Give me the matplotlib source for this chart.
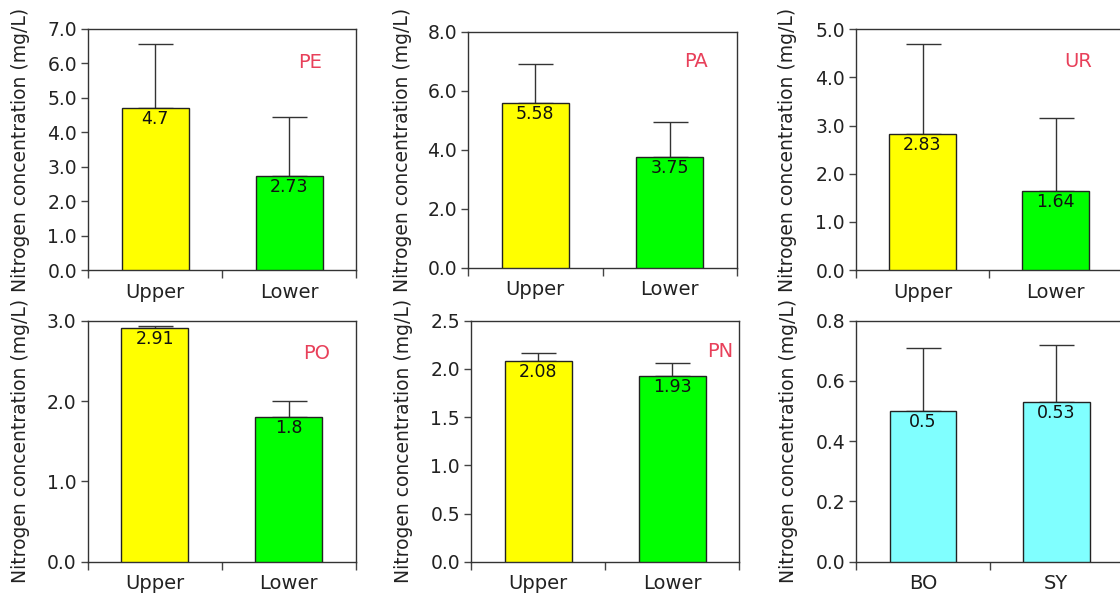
import matplotlib
matplotlib.use("Agg")
import matplotlib.pyplot as plt
from matplotlib.ticker import FixedLocator, FormatStrFormatter

plt.rcParams['font.family'] = ['DejaVu Sans']

# Site groups (top row and bottom row), categories, means and upper error
panel_names = ["PE", "PA", "UR", "PO", "PN", ""]
categories = [["Upper", "Lower"]] * 5 + [["BO", "SY"]]
means = [
    [4.7, 2.73],
    [5.58, 3.75],
    [2.83, 1.64],
    [2.91, 1.8],
    [2.08, 1.93],
    [0.5, 0.53],
]
errors = [
    [1.85, 1.71],
    [1.32, 1.18],
    [1.86, 1.52],
    [0.03, 0.20],
    [0.09, 0.13],
    [0.21, 0.19],
]
y_max = [7.0, 8.0, 5.0, 3.0, 2.5, 0.8]
y_step = [1.0, 2.0, 1.0, 1.0, 0.5, 0.2]
bar_colors = [["#FFFF00", "#00FF00"]] * 5 + [["#80FFFF", "#80FFFF"]]
ylabel_text = "Nitrogen concentration (mg/L)"

W, H = 1120, 594
fig = plt.figure(figsize=(W / 100, H / 100), dpi=100)

# axes boxes in pixels: left, right, top, bottom
boxes = [
    (88, 356, 29, 270),
    (468, 737, 31.7, 268),
    (856, 1122, 29.3, 270),
    (87.5, 356, 320.7, 561.7),
    (471, 739, 320.7, 561.7),
    (856.3, 1123, 320.7, 561.7),
]
name_pos = [(0.828, 0.859), (0.848, 0.873), (0.835, 0.865),
            (0.855, 0.865), (0.929, 0.871), (0.85, 0.87)]
label_x = [-0.216, -0.208, -0.222, -0.214, -0.216, -0.217]

for i in range(6):
    l, r, t, b = boxes[i]
    ax = fig.add_axes([l / W, 1 - b / H, (r - l) / W, (b - t) / H])
    x = [0, 1]
    ax.bar(x, means[i], width=0.5, color=bar_colors[i], edgecolor="#222222",
           linewidth=1.0, zorder=3)
    ax.errorbar(x, means[i], yerr=[[0, 0], errors[i]], fmt="none",
                ecolor="#333333", elinewidth=1.0, capsize=12.6, capthick=1.0,
                zorder=2)
    for xi, v in zip(x, means[i]):
        ax.annotate(f"{v:g}", (xi, v), xytext=(0, -1.5), textcoords="offset points",
                    ha="center", va="top", fontsize=12.5, color="#111111", zorder=4)
    ax.set_xlim(-0.5, 1.5)
    ax.set_ylim(0, y_max[i])
    n = int(round(y_max[i] / y_step[i]))
    ax.yaxis.set_major_locator(FixedLocator([k * y_step[i] for k in range(n + 1)]))
    ax.yaxis.set_major_formatter(FormatStrFormatter("%.1f"))
    ax.set_xticks(x)
    ax.set_xticklabels(categories[i])
    ax.xaxis.set_minor_locator(FixedLocator([-0.5, 0.5, 1.5]))
    ax.tick_params(axis="x", which="major", length=0, pad=9, labelsize=14,
                   labelcolor="#222222")
    ax.tick_params(axis="x", which="minor", length=6, width=1.0, color="#444444")
    ax.tick_params(axis="y", which="major", length=5, width=1.0, pad=3,
                   labelsize=13.5, labelcolor="#222222", color="#444444")
    for s in ax.spines.values():
        s.set_color("#333333")
        s.set_linewidth(1.0)
    ax.set_ylabel(ylabel_text, fontsize=13.5, color="#222222")
    ax.yaxis.set_label_coords(label_x[i], 0.5)
    if panel_names[i]:
        ax.text(name_pos[i][0], name_pos[i][1], panel_names[i], transform=ax.transAxes,
                ha="center", va="center", fontsize=14, color="#E8405A")

fig.savefig("out.png", dpi=100)
